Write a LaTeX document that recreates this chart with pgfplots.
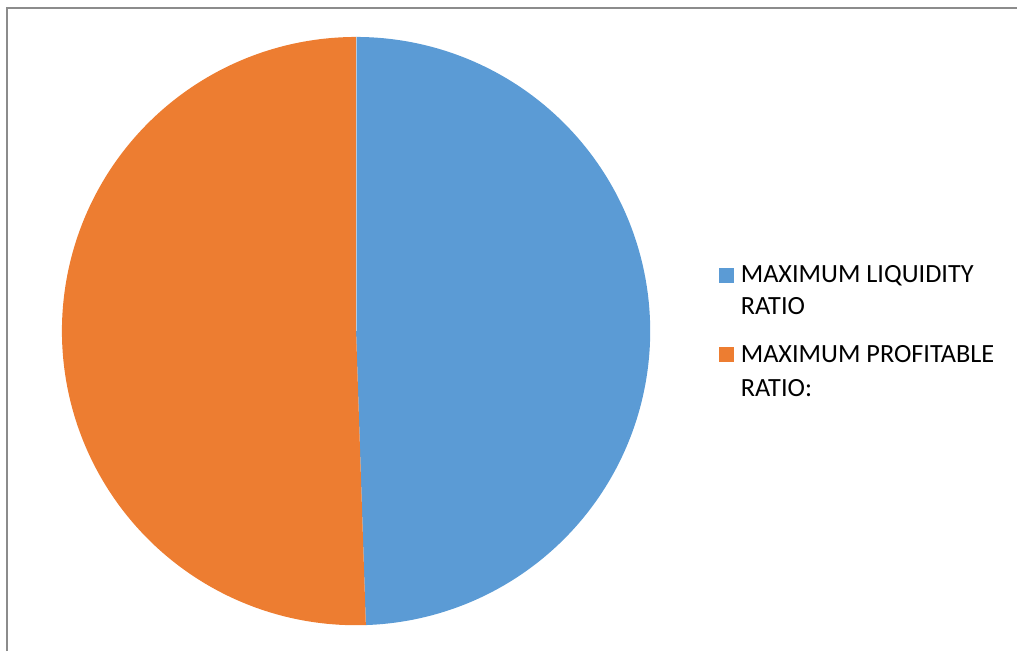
\documentclass[border=0pt]{standalone}
\usepackage{pgfplots}
\pgfplotsset{compat=1.18}
\usepackage{fontspec}
\setmainfont{Carlito}
\definecolor{pieblue}{HTML}{5B9BD5}
\definecolor{pieorange}{HTML}{ED7D31}
\definecolor{framegray}{HTML}{8C8C8C}
% pie data (percent)
\def\valA{49.47}  % MAXIMUM LIQUIDITY RATIO
\def\valB{50.53}  % MAXIMUM PROFITABLE RATIO:
\def\cx{356.5}
\def\cy{320.5}
\def\rr{294.5}
\begin{document}
\begin{tikzpicture}
\pgfmathsetmacro{\angA}{90-3.6*\valA}
\pgfmathsetmacro{\angB}{\angA-3.6*\valB}
\begin{axis}[
  scale only axis, width=1018pt, height=652pt,
  xmin=0, xmax=1018, ymin=0, ymax=652,
  axis lines=none, clip=false,
]
\path (axis cs:0,0) rectangle (axis cs:1018,652);
% slices
\addplot[fill=pieblue, draw=none, domain=90:\angA, samples=300, variable=\t]
  ({\cx+\rr*cos(\t)},{\cy+\rr*sin(\t)}) -- (axis cs:\cx,\cy) -- cycle;
\addplot[fill=pieorange, draw=none, domain=\angA:\angB, samples=300, variable=\t]
  ({\cx+\rr*cos(\t)},{\cy+\rr*sin(\t)}) -- (axis cs:\cx,\cy) -- cycle;
\addplot[draw=white, line width=0.6pt, opacity=0.5] coordinates {(\cx,\cy+\rr) (\cx,\cy)};
% frame
\addplot[framegray, line width=2.5pt] coordinates {(7,0) (7,644) (1018,644)};
% legend
\addplot[only marks, mark=square*, mark size=7pt, pieblue, mark options={draw=none, fill=pieblue}] coordinates {(727,376)};
\addplot[only marks, mark=square*, mark size=7pt, pieorange, mark options={draw=none, fill=pieorange}] coordinates {(727,297)};
\node[anchor=base west, inner sep=0pt, font=\fontsize{26.3}{30}\selectfont] at (axis cs:741.5,369.3) {MAXIMUM LIQUIDITY};
\node[anchor=base west, inner sep=0pt, font=\fontsize{26.3}{30}\selectfont] at (axis cs:741.5,336.7) {RATIO};
\node[anchor=base west, inner sep=0pt, font=\fontsize{26.3}{30}\selectfont] at (axis cs:741.5,289.3) {MAXIMUM PROFITABLE};
\node[anchor=base west, inner sep=0pt, font=\fontsize{26.3}{30}\selectfont] at (axis cs:741.5,255.3) {RATIO:};
\end{axis}
\end{tikzpicture}
\end{document}
